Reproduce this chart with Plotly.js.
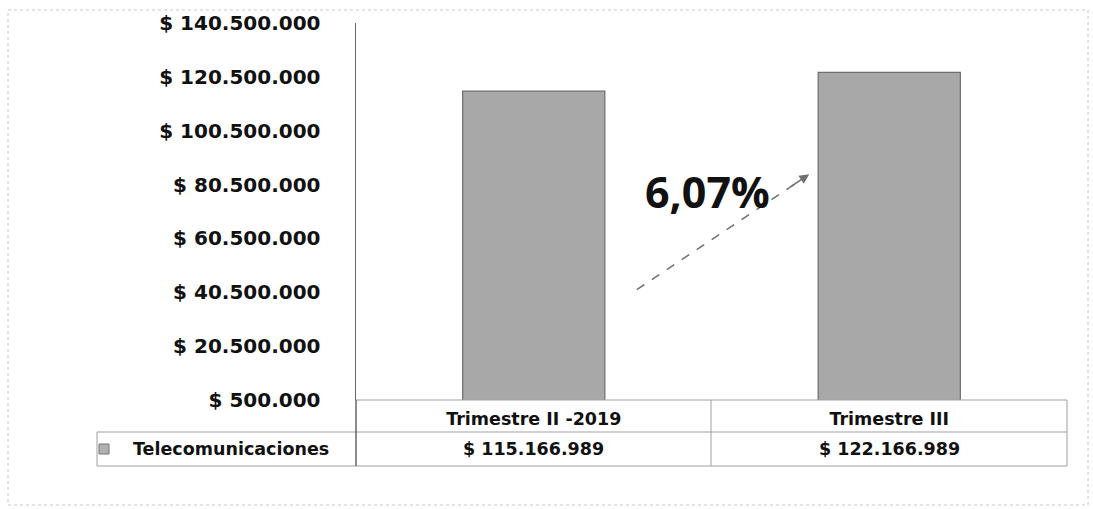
<!DOCTYPE html>
<html>
<head>
<meta charset="utf-8">
<script src="https://cdn.plot.ly/plotly-3.0.1.min.js"></script>
<style>html,body{margin:0;padding:0;background:#fff;}#chart{width:1093px;height:509px;}</style>
</head>
<body>
<div id="chart"></div>
<script>
// ---- data ----
var categories = ["Trimestre II -2019", "Trimestre III"];
var seriesName = "Telecomunicaciones";
var values = [115166989, 122166989];
var yTickVals = [500000, 20500000, 40500000, 60500000, 80500000, 100500000, 120500000, 140500000];
var yTickText = ["$ 500.000", "$ 20.500.000", "$ 40.500.000", "$ 60.500.000", "$ 80.500.000", "$ 100.500.000", "$ 120.500.000", "$ 140.500.000"];
var changeLabel = "6,07%";

// ---- layout helpers ----
var W = 1093, H = 509, L = 356, R = 26, T = 23, B = 109;
var PW = W - L - R, PH = H - T - B;
function X(px) { return (px - L) / PW; }
function Y(py) { return (H - B - py) / PH; }
function fmt(v) { return "$ " + String(v).replace(/\B(?=(\d{3})+(?!\d))/g, "."); }

var tableFont = {family: "DejaVu Sans", size: 17.5, color: "#111", weight: 700};
var lineC = "#a0a0a0";
function hline(x0, x1, y, c) { return {type: "line", xref: "paper", yref: "paper", x0: X(x0), x1: X(x1), y0: Y(y), y1: Y(y), line: {color: c || lineC, width: 1}}; }
function vline(x, y0, y1, c, w) { return {type: "line", xref: "paper", yref: "paper", x0: X(x), x1: X(x), y0: Y(y0), y1: Y(y1), line: {color: c || lineC, width: w || 1}}; }

var shapes = [
  // outer frame
  {type: "rect", xref: "paper", yref: "paper", x0: X(8), x1: X(1088), y0: Y(505), y1: Y(10), line: {color: "#c8c8c8", width: 1, dash: "dot"}},
  // data table grid
  hline(356, 1067, 400),
  hline(97, 1067, 432),
  hline(97, 1067, 466),
  vline(97, 432, 466),
  vline(356, 400, 466, "#666", 1.5),
  vline(711, 400, 466),
  vline(1067, 400, 466),
  // legend key
  {type: "rect", xref: "paper", yref: "paper", x0: X(99), x1: X(109), y0: Y(454), y1: Y(444), fillcolor: "#b0b0b0", line: {color: "#777", width: 1}},
  // dashed arrow shaft
  {type: "line", xref: "x", yref: "y", x0: 0.29, y0: 41500000, x1: 0.76, y1: 83000000, line: {color: "#707070", width: 1.5, dash: "dash"}}
];

var annotations = [];
for (var i = 0; i < categories.length; i++) {
  annotations.push({xref: "x", yref: "paper", x: categories[i], y: Y(449), text: fmt(values[i]), showarrow: false, font: tableFont, xanchor: "center", yanchor: "middle"});
}
annotations.push({xref: "paper", yref: "paper", x: X(331), y: Y(449), text: seriesName, showarrow: false, font: tableFont, xanchor: "right", yanchor: "middle"});
annotations.push({xref: "x", yref: "y", x: 0.49, y: 78000000, text: changeLabel, showarrow: false, font: {family: "Open Sans", size: 43, color: "#111", weight: 700}, xanchor: "center", yanchor: "middle"});
annotations.push({xref: "x", yref: "y", x: 0.775, y: 84300000, ax: 0.72, ay: 79500000, axref: "x", ayref: "y", text: "", showarrow: true, arrowhead: 2, arrowsize: 1.3, arrowwidth: 1.5, arrowcolor: "#707070"});

var trace = {
  type: "bar",
  x: categories,
  y: values,
  name: seriesName,
  width: 0.4,
  marker: {color: "#a8a8a8", line: {color: "#6e6e6e", width: 1.2}},
  hoverinfo: "skip"
};

var layout = {
  width: W, height: H,
  margin: {l: L, r: R, t: T, b: B, pad: 0},
  paper_bgcolor: "#fff", plot_bgcolor: "#fff",
  showlegend: false,
  bargap: 0.6,
  xaxis: {type: "category", range: [-0.5, 1.5], showgrid: false, zeroline: false, showline: false, ticks: "", tickfont: tableFont, ticklabelstandoff: 6, fixedrange: true},
  yaxis: {range: [500000, 140500000], tickvals: yTickVals, ticktext: yTickText, showgrid: false, zeroline: false, showline: true, linecolor: "#666", linewidth: 1.5, ticks: "", ticklabelstandoff: 30, tickfont: {family: "DejaVu Sans", size: 20, color: "#111", weight: 700}, fixedrange: true},
  shapes: shapes,
  annotations: annotations
};

Plotly.newPlot("chart", [trace], layout, {displayModeBar: false, staticPlot: true});
</script>
</body>
</html>
